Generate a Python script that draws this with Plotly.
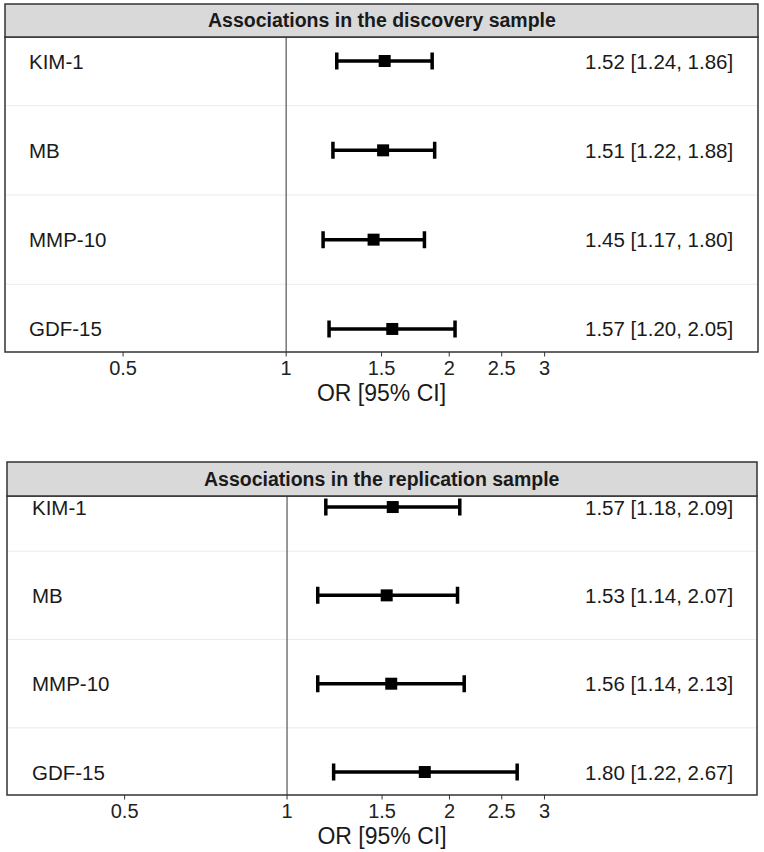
import plotly.graph_objects as go

W, H = 764, 852

markers = ["KIM-1", "MB", "MMP-10", "GDF-15"]
disc_or = [1.52, 1.51, 1.45, 1.57]
disc_lo = [1.24, 1.22, 1.17, 1.20]
disc_hi = [1.86, 1.88, 1.80, 2.05]
rep_or = [1.57, 1.53, 1.56, 1.80]
rep_lo = [1.18, 1.14, 1.14, 1.22]
rep_hi = [2.09, 2.07, 2.13, 2.67]
panel_titles = ["Associations in the discovery sample", "Associations in the replication sample"]
tick_vals = [0.5, 1, 1.5, 2, 2.5, 3]
tick_text = ["0.5", "1", "1.5", "2", "2.5", "3"]
x_title = "OR [95% CI]"

FONT = "Liberation Sans, Arial, Helvetica, sans-serif"

def py(pix):
    return (H - pix) / H

def px(pix):
    return pix / W

# panel geometry (pixels)
panels = [
    dict(x0=5, x1=758, top=37, bottom=352, strip_top=4, yr=[3.258, -0.269]),
    dict(x0=7, x1=757, top=496, bottom=795, strip_top=462, yr=[3.26, -0.125]),
]
series = [(disc_or, disc_lo, disc_hi), (rep_or, rep_lo, rep_hi)]

fig = go.Figure()
shapes = []
annotations = []
layout = dict(width=W, height=H, margin=dict(l=0, r=0, t=0, b=0),
              paper_bgcolor="white", plot_bgcolor="white", showlegend=False,
              font=dict(family=FONT, color="#1a1a1a"))

xrange = [-0.519, 0.871]

for i, (p, (orv, lo, hi)) in enumerate(zip(panels, series)):
    xa = "x" if i == 0 else "x2"
    ya = "y" if i == 0 else "y2"
    xkey = "xaxis" if i == 0 else "xaxis2"
    ykey = "yaxis" if i == 0 else "yaxis2"
    ys = list(range(len(markers)))
    fig.add_trace(go.Scatter(
        x=orv, y=ys, xaxis=xa, yaxis=ya, mode="markers",
        marker=dict(symbol="square", size=12, color="black"),
        error_x=dict(type="data", symmetric=False,
                     array=[h - o for h, o in zip(hi, orv)],
                     arrayminus=[o - l for o, l in zip(orv, lo)],
                     color="black", thickness=3.5, width=8.5),
        hoverinfo="skip"))
    layout[xkey] = dict(
        type="log", range=xrange, domain=[px(p["x0"]), px(p["x1"])],
        anchor="free", position=py(p["bottom"]) - 2.0 / H,
        tickvals=tick_vals, ticktext=tick_text, ticks="",
        showgrid=False, zeroline=False, showline=False,
        tickfont=dict(size=20, color="#222", family=FONT),
        title=dict(text=x_title, font=dict(size=23, color="#1a1a1a", family=FONT), standoff=6))
    layout[ykey] = dict(
        range=p["yr"], domain=[py(p["bottom"]), py(p["top"])], anchor=xa,
        showticklabels=False, ticks="", showgrid=False, zeroline=False, showline=False)
    # tick marks below the panel
    for tv in tick_vals:
        shapes.append(dict(type="line", xref=xa, x0=tv, x1=tv, yref="paper",
                           y0=py(p["bottom"]), y1=py(p["bottom"] + 4.5), line=dict(color="#333", width=1)))
    # row separators
    for s in [0.5, 1.5, 2.5]:
        shapes.append(dict(type="line", xref=f"{xa} domain", x0=0, x1=1, yref=ya, y0=s, y1=s,
                           line=dict(color="#ebebeb", width=1), layer="below"))
    # reference line at OR = 1
    shapes.append(dict(type="line", xref=xa, x0=1, x1=1, yref=f"{ya} domain", y0=0, y1=1,
                       line=dict(color="#555", width=1.2), layer="below"))
    # panel border
    shapes.append(dict(type="rect", xref=f"{xa} domain", yref=f"{ya} domain", x0=0, x1=1, y0=0, y1=1,
                       line=dict(color="#333", width=1.5), fillcolor="rgba(0,0,0,0)"))
    # strip
    shapes.append(dict(type="rect", xref="paper", yref="paper",
                       x0=px(p["x0"]), x1=px(p["x1"]), y0=py(p["top"]), y1=py(p["strip_top"]),
                       fillcolor="#d9d9d9", line=dict(color="#333", width=1.5)))
    annotations.append(dict(text="<b>" + panel_titles[i] + "</b>", xref="paper", yref="paper",
                            x=(px(p["x0"]) + px(p["x1"])) / 2, y=(py(p["top"]) + py(p["strip_top"])) / 2,
                            xanchor="center", yanchor="middle", showarrow=False,
                            font=dict(size=19.5, color="#1a1a1a", family=FONT)))
    # row labels and estimates
    for j, m in enumerate(markers):
        annotations.append(dict(text=m, xref=f"{xa} domain", yref=ya,
                                x=(27 - p["x0"] + (0 if i == 0 else 3)) / (p["x1"] - p["x0"]), y=j,
                                xanchor="left", yanchor="middle", showarrow=False,
                                font=dict(size=20.5, color="#1a1a1a", family=FONT)))
        annotations.append(dict(text=f"{orv[j]:.2f} [{lo[j]:.2f}, {hi[j]:.2f}]",
                                xref=f"{xa} domain", yref=ya,
                                x=(583 - p["x0"]) / (p["x1"] - p["x0"]), y=j,
                                xanchor="left", yanchor="middle", showarrow=False,
                                font=dict(size=20.5, color="#1a1a1a", family=FONT)))

layout["shapes"] = shapes
layout["annotations"] = annotations
fig.update_layout(**layout)
fig.write_html("out.html", config={"displayModeBar": False},
               post_script="document.body.style.margin='0px';")
